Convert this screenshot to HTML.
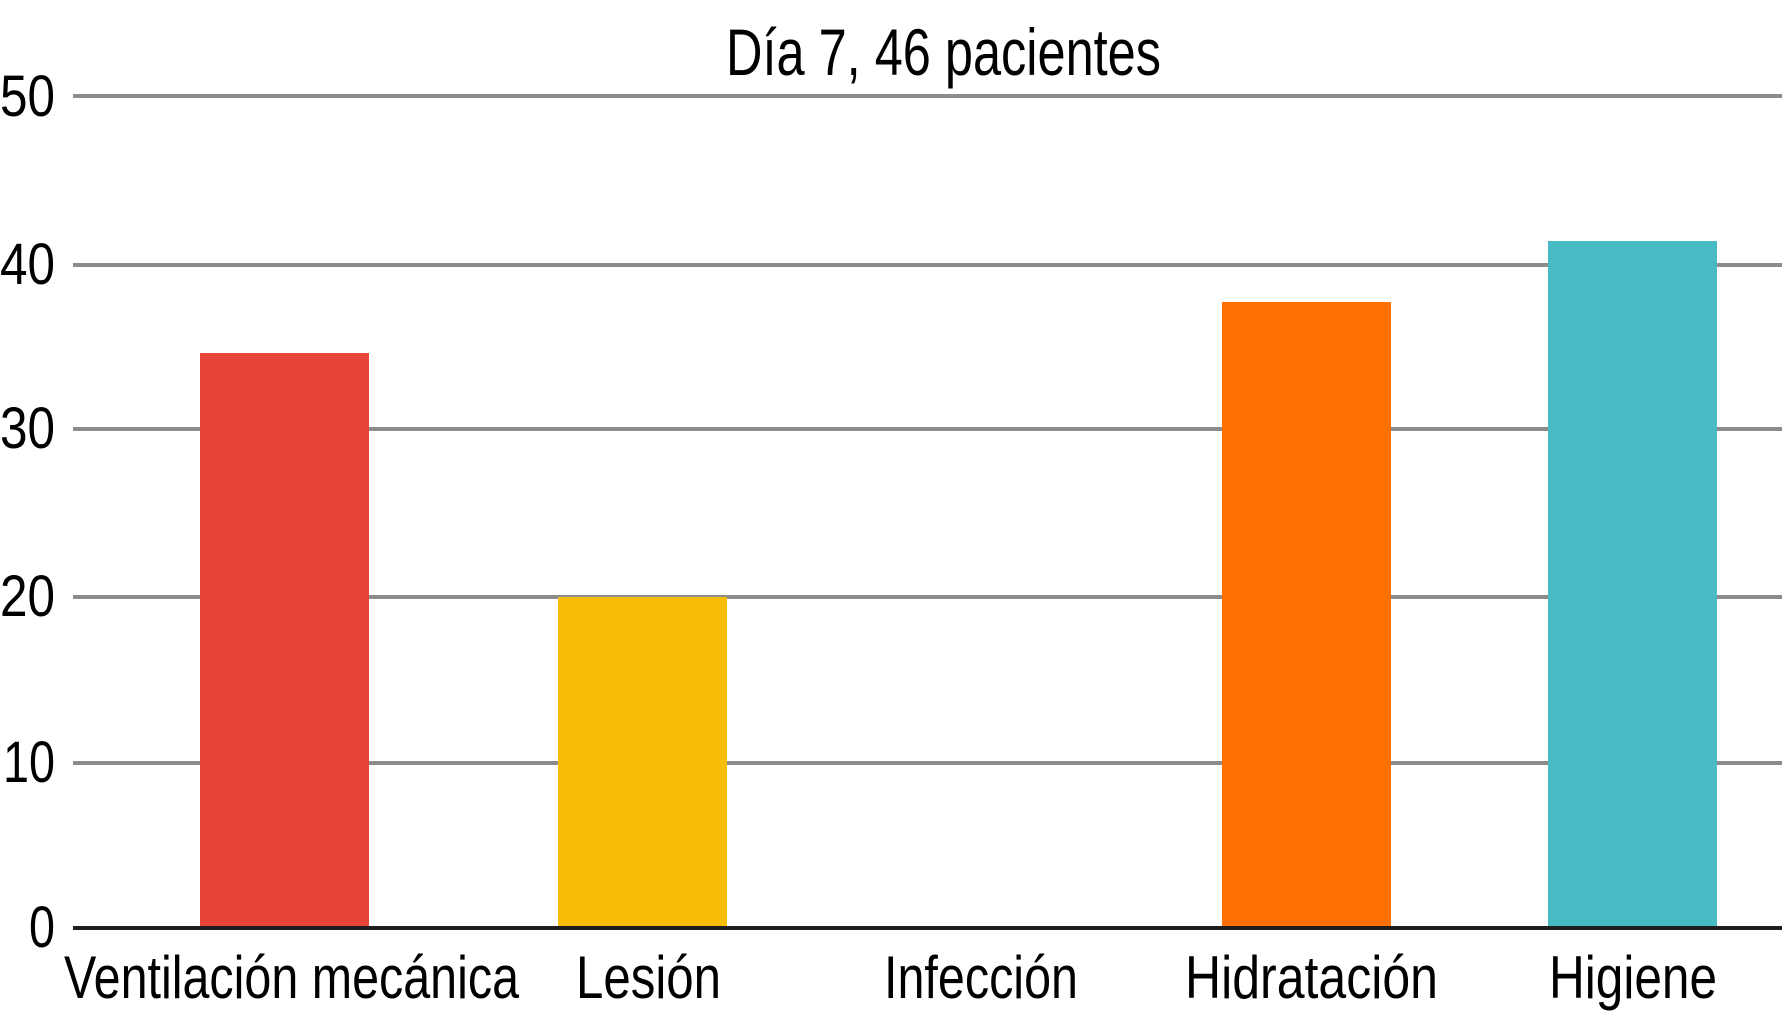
<!DOCTYPE html>
<html><head><meta charset="utf-8"><style>html,body{margin:0;padding:0;background:#fff}svg{display:block}</style></head>
<body>
<svg width="1782" height="1024" viewBox="0 0 1782 1024" xmlns="http://www.w3.org/2000/svg" font-family="Liberation Sans, Arial, sans-serif" fill="#000">
<rect width="1782" height="1024" fill="#fff"/>
<g stroke="#8c8c8c" stroke-width="4">
<line x1="73" y1="96" x2="1782" y2="96"/>
<line x1="73" y1="265" x2="1782" y2="265"/>
<line x1="73" y1="429" x2="1782" y2="429"/>
<line x1="73" y1="597" x2="1782" y2="597"/>
<line x1="73" y1="763" x2="1782" y2="763"/>
</g>
<rect x="200" y="353" width="169" height="575" fill="#e84438"/>
<rect x="558" y="597" width="169" height="331" fill="#f8bd06"/>
<rect x="1222" y="302" width="169" height="626" fill="#ff7002"/>
<rect x="1548" y="241" width="169" height="687" fill="#46bbc4"/>
<line x1="73" y1="928" x2="1782" y2="928" stroke="#1e1e1e" stroke-width="4"/>
<text x="726" y="75" font-size="66" textLength="435" lengthAdjust="spacingAndGlyphs">Día 7, 46 pacientes</text>
<g font-size="58" text-anchor="end">
<text x="55" y="116" textLength="55" lengthAdjust="spacingAndGlyphs">50</text>
<text x="55" y="284" textLength="55" lengthAdjust="spacingAndGlyphs">40</text>
<text x="55" y="448" textLength="55" lengthAdjust="spacingAndGlyphs">30</text>
<text x="55" y="616" textLength="55" lengthAdjust="spacingAndGlyphs">20</text>
<text x="55" y="782" textLength="52" lengthAdjust="spacingAndGlyphs">10</text>
<text x="55" y="947" textLength="26" lengthAdjust="spacingAndGlyphs">0</text>
</g>
<g font-size="60">
<text x="64" y="998" textLength="455" lengthAdjust="spacingAndGlyphs">Ventilación mecánica</text>
<text x="576" y="998" textLength="145" lengthAdjust="spacingAndGlyphs">Lesión</text>
<text x="884" y="998" textLength="194" lengthAdjust="spacingAndGlyphs">Infección</text>
<text x="1185" y="998" textLength="253" lengthAdjust="spacingAndGlyphs">Hidratación</text>
<text x="1549" y="998" textLength="168" lengthAdjust="spacingAndGlyphs">Higiene</text>
</g>
</svg>
</body></html>
